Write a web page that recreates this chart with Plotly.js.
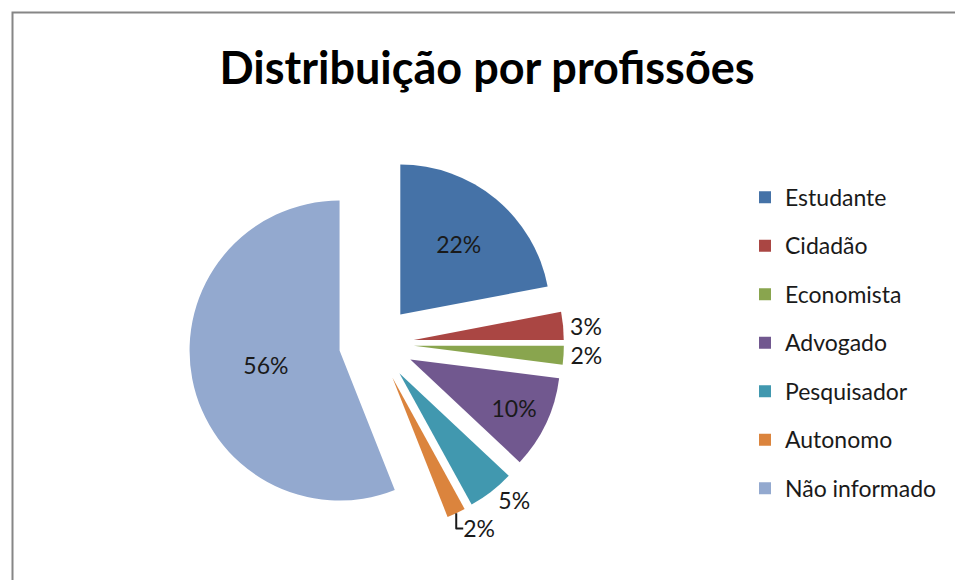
<!DOCTYPE html>
<html><head><meta charset="utf-8">
<script src="https://cdn.plot.ly/plotly-3.0.1.min.js"></script>
<style>html,body{margin:0;padding:0;background:#fff}</style>
</head><body><div id="chart" style="width:955px;height:580px"></div>
<script>
const categories = ['Estudante', 'Cidadão', 'Economista', 'Advogado', 'Pesquisador', 'Autonomo', 'Não informado'];
const values = [22, 3, 2, 10, 5, 2, 56];
const colors = ['#4572A7', '#AA4643', '#89A54E', '#71588F', '#4198AF', '#DB843D', '#93A9CF'];
const textPositions = ['inside', 'outside', 'outside', 'inside', 'outside', 'outside', 'inside'];
const chartTitle = 'Distribuição por profissões';

const W = 955, H = 580;
const cx = 376.4, cy = 343.5, half = 187.5;

const legendLabels = categories.map(c => '<span style="font-size:23px;baseline-shift:5px">' + c + '</span>');

const trace = {
  type: 'pie',
  labels: legendLabels,
  values: values,
  sort: false,
  direction: 'clockwise',
  rotation: 0,
  pull: 0.25,
  marker: {colors: colors, line: {width: 0}},
  textinfo: 'percent',
  textposition: textPositions,
  insidetextorientation: 'horizontal',
  textfont: {family: 'Lato, sans-serif', size: 23, color: '#1a1a1a'},
  hoverinfo: 'percent',
  domain: {
    x: [(cx - half) / W, (cx + half) / W],
    y: [(H - cy - half) / H, (H - cy + half) / H]
  }
};

const layout = {
  width: W, height: H,
  margin: {l: 0, r: 0, t: 0, b: 0},
  paper_bgcolor: '#ffffff',
  font: {family: 'Lato, sans-serif', color: '#1a1a1a'},
  title: {
    text: '<b>' + chartTitle + '</b>',
    font: {family: 'Lato, sans-serif', size: 45, color: '#000000'},
    x: 487 / W, xanchor: 'center',
    yref: 'container', y: 1 - 68 / H, yanchor: 'middle'
  },
  showlegend: true,
  legend: {
    x: 745 / W, xanchor: 'left',
    y: 1 - 168 / H, yanchor: 'top',
    font: {family: 'Lato, sans-serif', size: 35, color: '#1a1a1a'},
    bgcolor: 'rgba(0,0,0,0)'
  },
  shapes: [{
    type: 'rect', xref: 'paper', yref: 'paper',
    x0: 12.5 / W, x1: 1.2, y0: -0.2, y1: 1 - 12.5 / H,
    line: {color: '#868686', width: 2}
  }]
};

Plotly.newPlot('chart', [trace], layout, {displayModeBar: false, staticPlot: true});
</script>
</body></html>
